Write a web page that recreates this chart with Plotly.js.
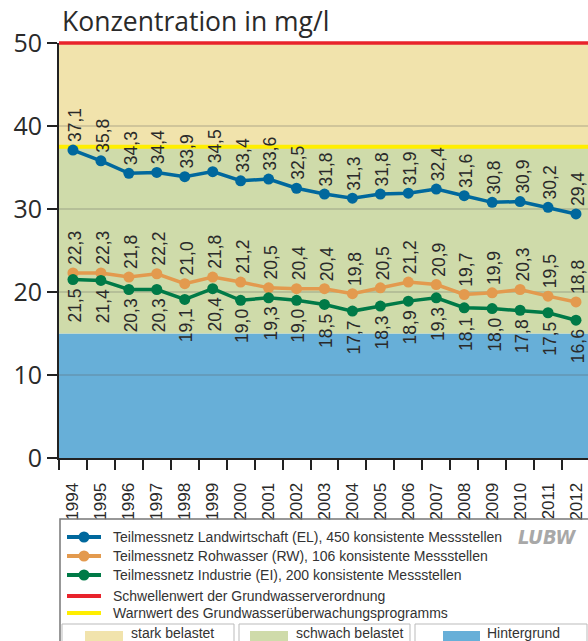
<!DOCTYPE html>
<html>
<head>
<meta charset="utf-8">
<script src="https://cdn.plot.ly/plotly-3.0.1.min.js"></script>
<style>html,body{margin:0;padding:0;background:#fff;}#chart{width:588px;height:641px;}</style>
</head>
<body>
<div id="chart"></div>
<script>
// ---- data ----
const years = ['1994','1995','1996','1997','1998','1999','2000','2001','2002','2003','2004','2005','2006','2007','2008','2009','2010','2011','2012'];
const landwirtschaft = [37.1,35.8,34.3,34.4,33.9,34.5,33.4,33.6,32.5,31.8,31.3,31.8,31.9,32.4,31.6,30.8,30.9,30.2,29.4];
const rohwasser = [22.3,22.3,21.8,22.2,21.0,21.8,21.2,20.5,20.4,20.4,19.8,20.5,21.2,20.9,19.7,19.9,20.3,19.5,18.8];
const industrie = [21.5,21.4,20.3,20.3,19.1,20.4,19.0,19.3,19.0,18.5,17.7,18.3,18.9,19.3,18.1,18.0,17.8,17.5,16.6];
const yTicks = [0,10,20,30,40,50];
const seriesNames = [
  'Teilmessnetz Landwirtschaft (EL), 450 konsistente Messstellen',
  'Teilmessnetz Rohwasser (RW), 106 konsistente Messstellen',
  'Teilmessnetz Industrie (EI), 200 konsistente Messstellen'
];
const refNames = ['Schwellenwert der Grundwasserverordnung','Warnwert des Grundwasserüberwachungsprogramms'];
const schwellenwert = 50;
const warnwert = 37.5;
const hintergrund = 15;
const bandNames = ['stark belastet','schwach belastet','Hintergrund'];

// ---- styles ----
const C_EL = '#00689D', C_RW = '#E39A4E', C_EI = '#007A47';
const C_RED = '#E8232B', C_YEL = '#FFEE00';
const C_TAN = '#F1E3AC', C_GRN = '#CFDBAA', C_BLU = '#67AFD8';
const FONT = 'Liberation Sans, Arial, sans-serif';
const TXT = '#2a2a2a';

// plot area geometry in pixels (for legend placement in paper coords)
const L = 59, T = 43, PW = 529, PH = 415;
const px = x => (x - L) / PW;
const py = y => (T + PH - y) / PH;

const fmt = v => v.toFixed(1).replace('.', ',');

const traces = [
  {x: years, y: landwirtschaft, color: C_EL},
  {x: years, y: rohwasser, color: C_RW},
  {x: years, y: industrie, color: C_EI}
].map((s, i) => ({
  type: 'scatter', mode: 'lines+markers', x: s.x, y: s.y, name: seriesNames[i],
  line: {color: s.color, width: 3.5}, marker: {color: s.color, size: 11},
  cliponaxis: false, showlegend: false, hoverinfo: 'skip'
}));

const annotations = [];
const labFont = {family: FONT, size: 17.5, color: TXT};
years.forEach((yr, i) => {
  // category axes take the category index for annotation positions
  annotations.push({x: i, y: landwirtschaft[i], xref: 'x', yref: 'y', text: fmt(landwirtschaft[i]), textangle: -90,
    showarrow: false, yanchor: 'bottom', yshift: 6, xshift: 2, font: labFont});
  annotations.push({x: i, y: rohwasser[i], xref: 'x', yref: 'y', text: fmt(rohwasser[i]), textangle: -90,
    showarrow: false, yanchor: 'bottom', yshift: 6, xshift: 2, font: labFont});
  annotations.push({x: i, y: industrie[i], xref: 'x', yref: 'y', text: fmt(industrie[i]), textangle: -90,
    showarrow: false, yanchor: 'top', yshift: -7, xshift: 2, font: labFont});
});

// title
annotations.push({xref: 'paper', yref: 'paper', x: px(60), y: py(21), xanchor: 'left', yanchor: 'middle',
  text: 'Konzentration in mg/l', showarrow: false, font: {family: 'Open Sans, sans-serif', size: 26.5, color: TXT}});

const shapes = [
  {type: 'rect', xref: 'paper', yref: 'y', x0: 0, x1: 1, y0: 0, y1: hintergrund, fillcolor: C_BLU, line: {width: 0}, layer: 'below'},
  {type: 'rect', xref: 'paper', yref: 'y', x0: 0, x1: 1, y0: hintergrund, y1: warnwert, fillcolor: C_GRN, line: {width: 0}, layer: 'below'},
  {type: 'rect', xref: 'paper', yref: 'y', x0: 0, x1: 1, y0: warnwert, y1: schwellenwert, fillcolor: C_TAN, line: {width: 0}, layer: 'below'},
  {type: 'line', xref: 'paper', yref: 'y', x0: 0, x1: 1, y0: warnwert, y1: warnwert, line: {color: C_YEL, width: 4}, layer: 'between'},
  // threshold line sits on the top edge of the plot (y = 50 = paper 1), drawn unclipped
  {type: 'line', xref: 'paper', yref: 'paper', x0: 0, x1: 1, y0: 1, y1: 1, line: {color: C_RED, width: 3.5}, layer: 'above'}
];

// legend frame
shapes.push({type: 'rect', xref: 'paper', yref: 'paper', x0: px(60), x1: px(600), y0: py(519), y1: py(700), line: {color: '#777', width: 1.5}, fillcolor: 'rgba(0,0,0,0)'});
const rows = [537, 556, 575, 596, 613];
const legColors = [C_EL, C_RW, C_EI, C_RED, C_YEL];
const legTexts = seriesNames.concat(refNames);
rows.forEach((ry, i) => {
  shapes.push({type: 'line', xref: 'paper', yref: 'paper', x0: px(67), x1: px(101), y0: py(ry), y1: py(ry), line: {color: legColors[i], width: 4}});
  if (i < 3) shapes.push({type: 'circle', xref: 'paper', yref: 'paper', x0: px(84 - 5.5), x1: px(84 + 5.5), y0: py(ry + 5.5), y1: py(ry - 5.5), fillcolor: legColors[i], line: {width: 0}});
  annotations.push({xref: 'paper', yref: 'paper', x: px(111), y: py(ry), xanchor: 'left', yanchor: 'middle', showarrow: false,
    text: legTexts[i], font: {family: FONT, size: 14, color: '#333'}});
});
// band boxes
const boxes = [[62, 234, 85, 123, 129, C_TAN], [239, 410, 250, 288, 294, C_GRN], [415, 587, 443, 480, 485, C_BLU]];
boxes.forEach((b, i) => {
  shapes.push({type: 'rect', xref: 'paper', yref: 'paper', x0: px(b[0]), x1: px(b[1]), y0: py(624), y1: py(680), line: {color: '#bbb', width: 1}, fillcolor: 'rgba(0,0,0,0)'});
  shapes.push({type: 'rect', xref: 'paper', yref: 'paper', x0: px(b[2]), x1: px(b[3]), y0: py(631), y1: py(680), line: {width: 0}, fillcolor: b[5]});
  annotations.push({xref: 'paper', yref: 'paper', x: px(b[4]), y: py(633), xanchor: 'left', yanchor: 'middle', showarrow: false,
    text: bandNames[i], font: {family: FONT, size: 14, color: '#333'}});
});
// logo
annotations.push({xref: 'paper', yref: 'paper', x: px(547), y: py(537), xanchor: 'center', yanchor: 'middle', showarrow: false,
  text: '<b><i>LUBW</i></b>', font: {family: 'DejaVu Sans Condensed, Liberation Sans Narrow, Liberation Sans, sans-serif', size: 20, color: '#a8a8a8'}});

const layout = {
  width: 588, height: 641,
  margin: {l: L, r: 588 - L - PW, t: T, b: 641 - T - PH, pad: 0},
  paper_bgcolor: '#fff', plot_bgcolor: '#fff',
  showlegend: false,
  xaxis: {type: 'category', range: [-0.5, 18.43], tickson: 'boundaries', ticks: 'outside', ticklen: 10, tickwidth: 2, tickcolor: '#222',
    tickangle: -90, ticklabelstandoff: 16, tickfont: {family: FONT, size: 17, color: TXT}, showline: true, linecolor: '#222', linewidth: 2,
    showgrid: false, zeroline: false, fixedrange: true},
  yaxis: {range: [0, 50], tickvals: yTicks, ticktext: yTicks.map(String), ticks: 'outside', ticklen: 10, tickwidth: 2, tickcolor: '#222',
    tickfont: {family: 'Open Sans, sans-serif', size: 25, color: TXT}, showline: true, linecolor: '#222', linewidth: 2,
    showgrid: true, gridcolor: 'rgba(90,90,90,0.22)', gridwidth: 2, zeroline: false, fixedrange: true},
  shapes: shapes,
  annotations: annotations
};

Plotly.newPlot('chart', traces, layout, {displayModeBar: false, staticPlot: true});
</script>
</body>
</html>
